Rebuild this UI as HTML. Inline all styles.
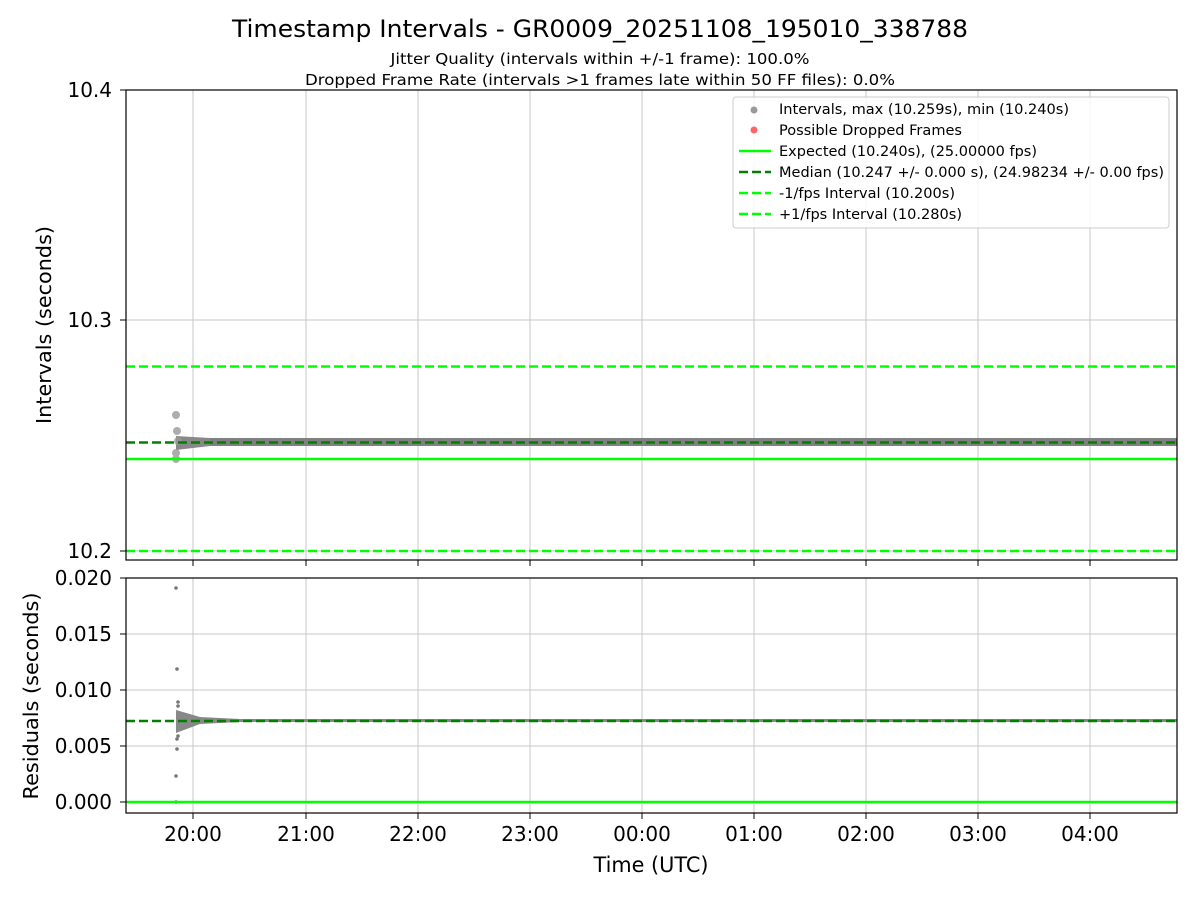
<!DOCTYPE html>
<html><head><meta charset="utf-8"><style>body{margin:0;background:#fff}svg{display:block}text{font-family:"DejaVu Sans","Liberation Sans",sans-serif}</style></head><body>
<svg width="1200" height="900" viewBox="0 0 1200 900" xmlns="http://www.w3.org/2000/svg">
<rect width="1200" height="900" fill="#fff"/>
<text x="600" y="37" font-size="24" text-anchor="middle" textLength="736" lengthAdjust="spacingAndGlyphs">Timestamp Intervals - GR0009_20251108_195010_338788</text>
<text x="600" y="64" font-size="15.5" text-anchor="middle" textLength="419" lengthAdjust="spacingAndGlyphs">Jitter Quality (intervals within +/-1 frame): 100.0%</text>
<text x="600" y="85" font-size="15.5" text-anchor="middle" textLength="590" lengthAdjust="spacingAndGlyphs">Dropped Frame Rate (intervals &gt;1 frames late within 50 FF files): 0.0%</text>
<g stroke="#b0b0b0" stroke-width="1" opacity="0.7">
<line x1="193" y1="90" x2="193" y2="560"/><line x1="306" y1="90" x2="306" y2="560"/><line x1="418" y1="90" x2="418" y2="560"/><line x1="530" y1="90" x2="530" y2="560"/><line x1="642" y1="90" x2="642" y2="560"/><line x1="754" y1="90" x2="754" y2="560"/><line x1="866" y1="90" x2="866" y2="560"/><line x1="978" y1="90" x2="978" y2="560"/><line x1="1090" y1="90" x2="1090" y2="560"/>
<line x1="126" y1="320" x2="1177" y2="320"/><line x1="126" y1="551" x2="1177" y2="551"/>
<line x1="193" y1="578" x2="193" y2="813"/><line x1="306" y1="578" x2="306" y2="813"/><line x1="418" y1="578" x2="418" y2="813"/><line x1="530" y1="578" x2="530" y2="813"/><line x1="642" y1="578" x2="642" y2="813"/><line x1="754" y1="578" x2="754" y2="813"/><line x1="866" y1="578" x2="866" y2="813"/><line x1="978" y1="578" x2="978" y2="813"/><line x1="1090" y1="578" x2="1090" y2="813"/>
<line x1="126" y1="634" x2="1177" y2="634"/><line x1="126" y1="690" x2="1177" y2="690"/><line x1="126" y1="746" x2="1177" y2="746"/><line x1="126" y1="802" x2="1177" y2="802"/>
</g>
<rect x="180" y="438" width="997" height="8" fill="#808080"/>
<path d="M176 436 L210 438 L210 446 L176 450 Z" fill="#888"/>
<g fill="#999" opacity="0.8"><circle cx="176" cy="415" r="4"/><circle cx="177" cy="431" r="4"/><circle cx="176" cy="453" r="4"/><circle cx="176" cy="459" r="4"/><circle cx="178" cy="441" r="4"/></g>
<line x1="126" y1="459" x2="1177" y2="459" stroke="#00ff00" stroke-width="2.5"/>
<line x1="126" y1="442.5" x2="1177" y2="442.5" stroke="#008000" stroke-width="2.5" stroke-dasharray="9,4"/>
<line x1="126" y1="366.5" x2="1177" y2="366.5" stroke="#00ff00" stroke-width="2.5" stroke-dasharray="9,4"/>
<line x1="126" y1="551" x2="1177" y2="551" stroke="#00ff00" stroke-width="2.5" stroke-dasharray="9,4"/>
<rect x="126" y="90" width="1051" height="470" fill="none" stroke="#000" stroke-width="1.2"/>
<g font-size="20" text-anchor="end"><text x="112" y="97">10.4</text><text x="112" y="327">10.3</text><text x="112" y="558">10.2</text></g>
<g stroke="#000"><line x1="120" y1="90" x2="126" y2="90"/><line x1="120" y1="320" x2="126" y2="320"/><line x1="120" y1="551" x2="126" y2="551"/></g>
<text transform="translate(51,325) rotate(-90)" font-size="20" text-anchor="middle" textLength="198" lengthAdjust="spacingAndGlyphs">Intervals (seconds)</text>
<rect x="733" y="97" width="436" height="131" rx="3" fill="#fff" fill-opacity="0.8" stroke="#ccc"/>
<g font-size="14">
<circle cx="754" cy="110" r="3.5" fill="#999"/><text x="779" y="114" textLength="290" lengthAdjust="spacingAndGlyphs">Intervals, max (10.259s), min (10.240s)</text>
<circle cx="754" cy="130" r="3.5" fill="#ff6666"/><text x="779" y="135" textLength="183" lengthAdjust="spacingAndGlyphs">Possible Dropped Frames</text>
<line x1="739" y1="151" x2="771" y2="151" stroke="#00ff00" stroke-width="2.5"/><text x="779" y="156" textLength="258" lengthAdjust="spacingAndGlyphs">Expected (10.240s), (25.00000 fps)</text>
<line x1="739" y1="172" x2="771" y2="172" stroke="#008000" stroke-width="2.5" stroke-dasharray="9,4"/><text x="779" y="177" textLength="385" lengthAdjust="spacingAndGlyphs">Median (10.247 +/- 0.000 s), (24.98234 +/- 0.00 fps)</text>
<line x1="739" y1="193" x2="771" y2="193" stroke="#00ff00" stroke-width="2.5" stroke-dasharray="9,4"/><text x="779" y="198" textLength="176" lengthAdjust="spacingAndGlyphs">-1/fps Interval (10.200s)</text>
<line x1="739" y1="214" x2="771" y2="214" stroke="#00ff00" stroke-width="2.5" stroke-dasharray="9,4"/><text x="779" y="219" textLength="183" lengthAdjust="spacingAndGlyphs">+1/fps Interval (10.280s)</text>
</g>
<rect x="178" y="719" width="999" height="3" fill="#888"/>
<path d="M176 710 L200 717 L240 719 L240 722 L200 724 L176 733 Z" fill="#888"/>
<g fill="#777"><circle cx="176" cy="588" r="1.8"/><circle cx="177" cy="669" r="1.8"/><circle cx="178" cy="702" r="1.8"/><circle cx="177" cy="749" r="1.8"/><circle cx="176" cy="776" r="1.8"/><circle cx="176" cy="802" r="1.8"/><circle cx="178" cy="736" r="1.8"/><circle cx="177" cy="739" r="1.8"/><circle cx="178" cy="706" r="1.8"/></g>
<line x1="126" y1="802" x2="1177" y2="802" stroke="#00ff00" stroke-width="2.5"/>
<line x1="126" y1="721" x2="1177" y2="721" stroke="#008000" stroke-width="2.5" stroke-dasharray="9,4"/>
<rect x="126" y="578" width="1051" height="235" fill="none" stroke="#000" stroke-width="1.2"/>
<g font-size="20" text-anchor="end"><text x="112" y="585">0.020</text><text x="112" y="641">0.015</text><text x="112" y="697">0.010</text><text x="112" y="753">0.005</text><text x="112" y="809">0.000</text></g>
<g stroke="#000"><line x1="120" y1="578" x2="126" y2="578"/><line x1="120" y1="634" x2="126" y2="634"/><line x1="120" y1="690" x2="126" y2="690"/><line x1="120" y1="746" x2="126" y2="746"/><line x1="120" y1="802" x2="126" y2="802"/></g>
<text transform="translate(38,696) rotate(-90)" font-size="20" text-anchor="middle" textLength="207" lengthAdjust="spacingAndGlyphs">Residuals (seconds)</text>
<g stroke="#000"><line x1="193" y1="560" x2="193" y2="566"/><line x1="306" y1="560" x2="306" y2="566"/><line x1="418" y1="560" x2="418" y2="566"/><line x1="530" y1="560" x2="530" y2="566"/><line x1="642" y1="560" x2="642" y2="566"/><line x1="754" y1="560" x2="754" y2="566"/><line x1="866" y1="560" x2="866" y2="566"/><line x1="978" y1="560" x2="978" y2="566"/><line x1="1090" y1="560" x2="1090" y2="566"/>
<line x1="193" y1="813" x2="193" y2="819"/><line x1="306" y1="813" x2="306" y2="819"/><line x1="418" y1="813" x2="418" y2="819"/><line x1="530" y1="813" x2="530" y2="819"/><line x1="642" y1="813" x2="642" y2="819"/><line x1="754" y1="813" x2="754" y2="819"/><line x1="866" y1="813" x2="866" y2="819"/><line x1="978" y1="813" x2="978" y2="819"/><line x1="1090" y1="813" x2="1090" y2="819"/></g>
<g font-size="20" text-anchor="middle"><text x="193" y="841">20:00</text><text x="306" y="841">21:00</text><text x="418" y="841">22:00</text><text x="530" y="841">23:00</text><text x="642" y="841">00:00</text><text x="754" y="841">01:00</text><text x="866" y="841">02:00</text><text x="978" y="841">03:00</text><text x="1090" y="841">04:00</text></g>
<text x="651" y="872" font-size="21" text-anchor="middle" textLength="115" lengthAdjust="spacingAndGlyphs">Time (UTC)</text>
</svg>
</body></html>
